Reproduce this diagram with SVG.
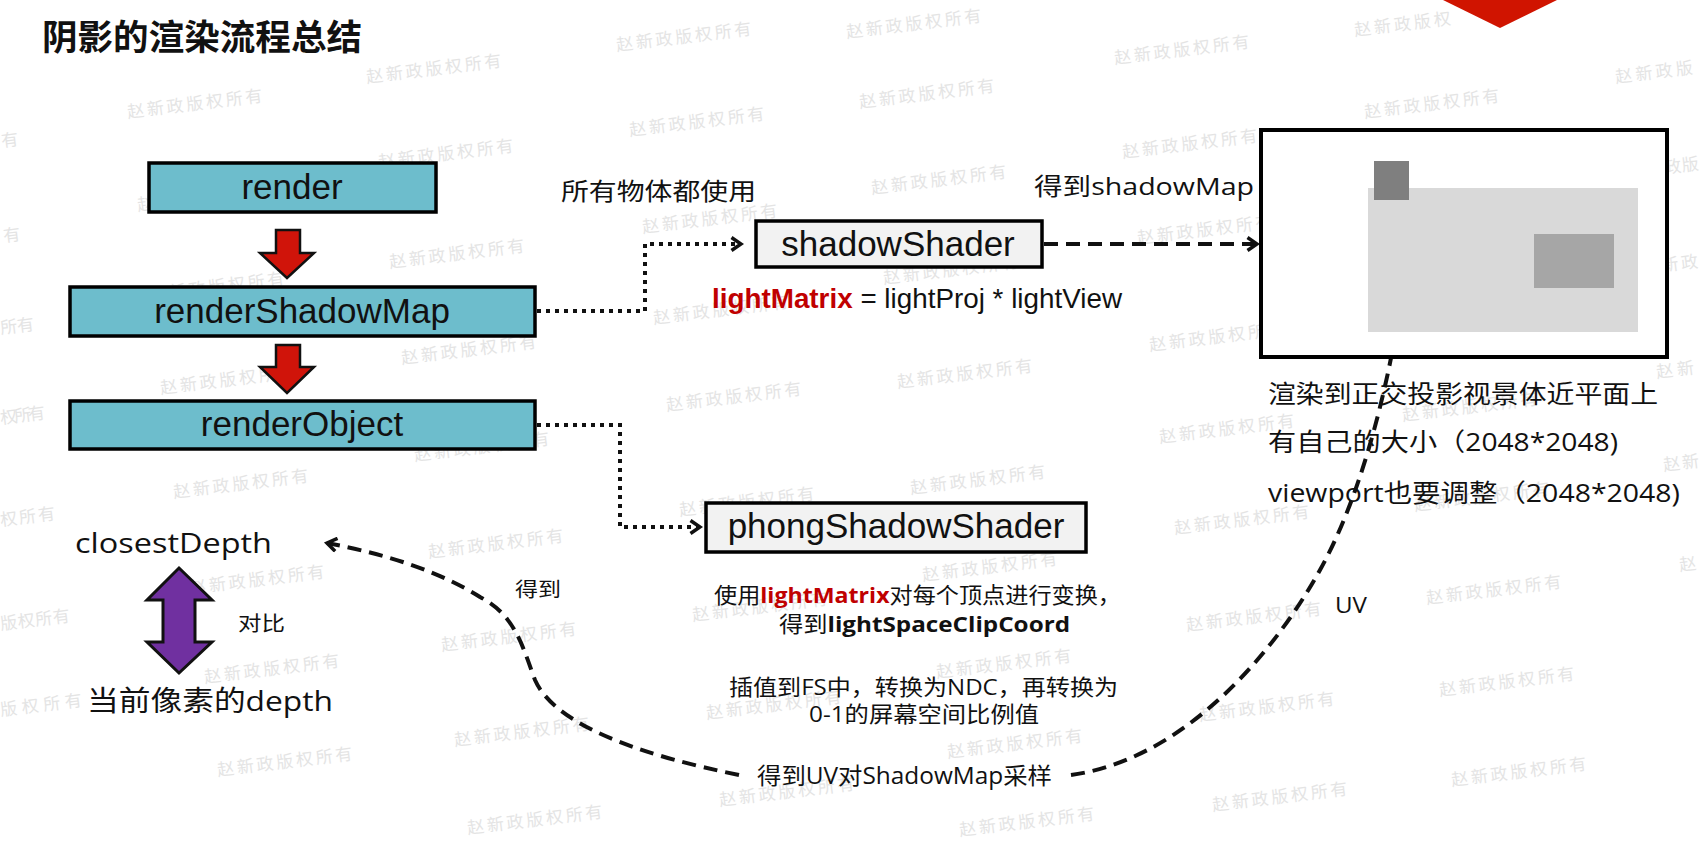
<svg xmlns="http://www.w3.org/2000/svg" width="1702" height="843" viewBox="0 0 1702 843">
<style>
.wm{font-family:"Noto Sans CJK SC",sans-serif;font-size:17px;fill:#e4e4e4}
.box{stroke:#000;stroke-width:3.5}
.teal{fill:#6dbdcc}
.gray{fill:#f2f2f2}
.bt{font-family:"Liberation Sans",Arial,sans-serif;font-size:35px;fill:#111;text-anchor:middle}
.yh{font-family:"Open Sans","Noto Sans CJK SC",sans-serif;fill:#111}
.ar{font-family:"Liberation Sans",Arial,sans-serif;fill:#111}
.red{fill:#c00000;font-weight:700}
.dot{fill:none;stroke:#111;stroke-width:4;stroke-dasharray:4 5}
.dash{fill:none;stroke:#111;stroke-width:4;stroke-dasharray:14 8}
</style>
<defs>
<marker id="chev" viewBox="0 0 14 16" refX="11" refY="8" markerWidth="14" markerHeight="16" markerUnits="userSpaceOnUse" orient="auto">
<path d="M1.5,1.5 L11,8 L1.5,14.5" fill="none" stroke="#111" stroke-width="3.5" stroke-linejoin="miter"/>
</marker>
</defs>
<rect width="1702" height="843" fill="#fff"/>
<g id="watermarks" class="wm">
<text x="2" y="147" transform="rotate(-7 2 147)">有</text>
<text x="4" y="242" transform="rotate(-7 4 242)">有</text>
<text x="1" y="334" transform="rotate(-7 1 334)" textLength="34">所有</text>
<text x="1" y="424" transform="rotate(-7 1 424)" textLength="45">权所有</text>
<text x="1" y="526" transform="rotate(-7 1 526)" textLength="55">权所有</text>
<text x="1" y="630" transform="rotate(-7 1 630)" textLength="70">版权所有</text>
<text x="1" y="716" transform="rotate(-7 1 716)" textLength="82">版权所有</text>
<text x="128" y="118" transform="rotate(-7 128 118)" textLength="136">赵新政版权所有</text>
<text x="138" y="211" transform="rotate(-7 138 211)" textLength="136">赵新政版权所有</text>
<text x="150" y="301" transform="rotate(-7 150 301)" textLength="136">赵新政版权所有</text>
<text x="161" y="394" transform="rotate(-7 161 394)" textLength="136">赵新政版权所有</text>
<text x="174" y="498" transform="rotate(-7 174 498)" textLength="136">赵新政版权所有</text>
<text x="190" y="594" transform="rotate(-7 190 594)" textLength="136">赵新政版权所有</text>
<text x="205" y="683" transform="rotate(-7 205 683)" textLength="136">赵新政版权所有</text>
<text x="218" y="776" transform="rotate(-7 218 776)" textLength="136">赵新政版权所有</text>
<text x="367" y="83" transform="rotate(-7 367 83)" textLength="136">赵新政版权所有</text>
<text x="379" y="168" transform="rotate(-7 379 168)" textLength="136">赵新政版权所有</text>
<text x="390" y="268" transform="rotate(-7 390 268)" textLength="136">赵新政版权所有</text>
<text x="402" y="364" transform="rotate(-7 402 364)" textLength="136">赵新政版权所有</text>
<text x="415" y="461" transform="rotate(-7 415 461)" textLength="136">赵新政版权所有</text>
<text x="429" y="558" transform="rotate(-7 429 558)" textLength="136">赵新政版权所有</text>
<text x="442" y="651" transform="rotate(-7 442 651)" textLength="136">赵新政版权所有</text>
<text x="455" y="746" transform="rotate(-7 455 746)" textLength="136">赵新政版权所有</text>
<text x="468" y="834" transform="rotate(-7 468 834)" textLength="136">赵新政版权所有</text>
<text x="617" y="51" transform="rotate(-7 617 51)" textLength="136">赵新政版权所有</text>
<text x="630" y="136" transform="rotate(-7 630 136)" textLength="136">赵新政版权所有</text>
<text x="643" y="233" transform="rotate(-7 643 233)" textLength="136">赵新政版权所有</text>
<text x="654" y="324" transform="rotate(-7 654 324)" textLength="136">赵新政版权所有</text>
<text x="667" y="411" transform="rotate(-7 667 411)" textLength="136">赵新政版权所有</text>
<text x="680" y="516" transform="rotate(-7 680 516)" textLength="136">赵新政版权所有</text>
<text x="693" y="621" transform="rotate(-7 693 621)" textLength="136">赵新政版权所有</text>
<text x="707" y="719" transform="rotate(-7 707 719)" textLength="136">赵新政版权所有</text>
<text x="720" y="806" transform="rotate(-7 720 806)" textLength="136">赵新政版权所有</text>
<text x="847" y="38" transform="rotate(-7 847 38)" textLength="136">赵新政版权所有</text>
<text x="860" y="108" transform="rotate(-7 860 108)" textLength="136">赵新政版权所有</text>
<text x="872" y="194" transform="rotate(-7 872 194)" textLength="136">赵新政版权所有</text>
<text x="884" y="284" transform="rotate(-7 884 284)" textLength="136">赵新政版权所有</text>
<text x="898" y="388" transform="rotate(-7 898 388)" textLength="136">赵新政版权所有</text>
<text x="911" y="494" transform="rotate(-7 911 494)" textLength="136">赵新政版权所有</text>
<text x="923" y="581" transform="rotate(-7 923 581)" textLength="136">赵新政版权所有</text>
<text x="937" y="678" transform="rotate(-7 937 678)" textLength="136">赵新政版权所有</text>
<text x="948" y="758" transform="rotate(-7 948 758)" textLength="136">赵新政版权所有</text>
<text x="960" y="836" transform="rotate(-7 960 836)" textLength="136">赵新政版权所有</text>
<text x="1115" y="64" transform="rotate(-7 1115 64)" textLength="136">赵新政版权所有</text>
<text x="1123" y="158" transform="rotate(-7 1123 158)" textLength="136">赵新政版权所有</text>
<text x="1138" y="244" transform="rotate(-7 1138 244)" textLength="136">赵新政版权所有</text>
<text x="1150" y="351" transform="rotate(-7 1150 351)" textLength="136">赵新政版权所有</text>
<text x="1160" y="443" transform="rotate(-7 1160 443)" textLength="136">赵新政版权所有</text>
<text x="1175" y="534" transform="rotate(-7 1175 534)" textLength="136">赵新政版权所有</text>
<text x="1187" y="631" transform="rotate(-7 1187 631)" textLength="136">赵新政版权所有</text>
<text x="1200" y="721" transform="rotate(-7 1200 721)" textLength="136">赵新政版权所有</text>
<text x="1213" y="811" transform="rotate(-7 1213 811)" textLength="136">赵新政版权所有</text>
<text x="1355" y="36" transform="rotate(-7 1355 36)" textLength="97">赵新政版权</text>
<text x="1365" y="118" transform="rotate(-7 1365 118)" textLength="136">赵新政版权所有</text>
<text x="1403" y="421" transform="rotate(-7 1403 421)" textLength="136">赵新政版权所有</text>
<text x="1415" y="511" transform="rotate(-7 1415 511)" textLength="136">赵新政版权所有</text>
<text x="1427" y="604" transform="rotate(-7 1427 604)" textLength="136">赵新政版权所有</text>
<text x="1440" y="696" transform="rotate(-7 1440 696)" textLength="136">赵新政版权所有</text>
<text x="1452" y="786" transform="rotate(-7 1452 786)" textLength="136">赵新政版权所有</text>
<text x="1616" y="83" transform="rotate(-7 1616 83)" textLength="78">赵新政版</text>
<text x="1630" y="178" transform="rotate(-7 1630 178)" textLength="70">赵新政版</text>
<text x="1643" y="274" transform="rotate(-7 1643 274)" textLength="56">赵新政</text>
<text x="1657" y="378" transform="rotate(-7 1657 378)" textLength="38">赵新</text>
<text x="1664" y="471" transform="rotate(-7 1664 471)" textLength="36">赵新</text>
<text x="1680" y="571" transform="rotate(-7 1680 571)">赵</text>
</g>
<polygon id="corner-shape" points="1443,0 1557,0 1500,28" fill="#d01400"/>
<g id="title">
<text x="42" y="50" font-family="'Noto Sans CJK SC',sans-serif" font-weight="700" font-size="35" fill="#111" textLength="320" lengthAdjust="spacingAndGlyphs">阴影的渲染流程总结</text>
</g>
<g id="connectors">
<polygon points="276,230 300,230 300,253 314,253 287,278 260,253 276,253" fill="#d0140a" stroke="#111" stroke-width="2.5" stroke-linejoin="miter"/>
<polygon points="276,345 300,345 300,367 314,367 287,393 260,367 276,367" fill="#d0140a" stroke="#111" stroke-width="2.5" stroke-linejoin="miter"/>
<path class="dot" d="M537,311 H645 V244 H741" marker-end="url(#chev)"/>
<path class="dot" d="M537,425 H620 V527 H700" marker-end="url(#chev)"/>
<path class="dash" d="M1044,244 H1257" marker-end="url(#chev)"/>
<path class="dash" d="M739,775 C640,755 555,725 535,680 C522,645 515,615 480,597 C440,572 390,555 327,543" marker-end="url(#chev)"/>
<path class="dash" d="M1071,775 C1180,760 1270,660 1320,570 C1370,480 1400,340 1410,227" marker-end="url(#chev)"/>
<polygon points="179,568 212,600 195,600 195,642 212,642 179,673 147,642 163,642 163,600 147,600" fill="#7030a0" stroke="#111" stroke-width="3" stroke-linejoin="miter"/>
</g>
<g id="render">
<rect class="box teal" x="149" y="163" width="287" height="49"/>
<text class="bt" x="292" y="199">render</text>
</g>
<g id="renderShadowMap">
<rect class="box teal" x="70" y="287" width="465" height="49"/>
<text class="bt" x="302" y="323">renderShadowMap</text>
</g>
<g id="renderObject">
<rect class="box teal" x="70" y="401" width="465" height="48"/>
<text class="bt" x="302" y="436">renderObject</text>
</g>
<g id="shadowShader">
<rect class="box gray" x="756" y="221" width="286" height="46"/>
<text class="bt" x="898" y="256">shadowShader</text>
</g>
<g id="phongShadowShader">
<rect class="box gray" x="706" y="503" width="380" height="49"/>
<text class="bt" x="896" y="538">phongShadowShader</text>
</g>
<g id="shadowMap">
<rect x="1261" y="130" width="406" height="227" fill="#fff" stroke="#000" stroke-width="4"/>
<rect x="1368" y="188" width="270" height="144" fill="#d9d9d9"/>
<rect x="1374" y="161" width="35" height="39" fill="#7f7f7f"/>
<rect x="1534" y="234" width="80" height="54" fill="#a6a6a6"/>
</g>
<g id="labels">
<text class="yh" x="561" y="200" font-size="24" textLength="195" lengthAdjust="spacingAndGlyphs">所有物体都使用</text>
<text class="yh" x="1034" y="195" font-size="24" textLength="220" lengthAdjust="spacingAndGlyphs">得到shadowMap</text>
<text class="ar" x="712" y="308" font-size="28" textLength="410" lengthAdjust="spacingAndGlyphs"><tspan class="red">lightMatrix</tspan> = lightProj * lightView</text>
<text class="yh" x="714" y="603" font-size="22" textLength="407" lengthAdjust="spacingAndGlyphs">使用<tspan class="red">lightMatrix</tspan>对每个顶点进行变换，</text>
<text class="yh" x="779" y="632" font-size="22" textLength="291" lengthAdjust="spacingAndGlyphs">得到<tspan font-weight="700">lightSpaceClipCoord</tspan></text>
<text class="yh" x="729" y="695" font-size="22" textLength="389" lengthAdjust="spacingAndGlyphs">插值到FS中，转换为NDC，再转换为</text>
<text class="yh" x="809" y="722" font-size="22" textLength="230" lengthAdjust="spacingAndGlyphs">0-1的屏幕空间比例值</text>
<text class="yh" x="757" y="784" font-size="23" textLength="295" lengthAdjust="spacingAndGlyphs">得到UV对ShadowMap采样</text>
<text class="yh" x="1268" y="403" font-size="25" textLength="390" lengthAdjust="spacingAndGlyphs">渲染到正交投影视景体近平面上</text>
<text class="yh" x="1268" y="451" font-size="25" textLength="350" lengthAdjust="spacingAndGlyphs">有自己的大小（2048*2048)</text>
<text class="yh" x="1268" y="502" font-size="25" textLength="412" lengthAdjust="spacingAndGlyphs">viewport也要调整（2048*2048)</text>
<text class="yh" x="1335" y="613" font-size="22" textLength="32" lengthAdjust="spacingAndGlyphs">UV</text>
<text class="yh" x="515" y="597" font-size="20" textLength="46" lengthAdjust="spacingAndGlyphs">得到</text>
</g>
<g id="closestDepth">
<text class="yh" x="75" y="553" font-size="27" textLength="197" lengthAdjust="spacingAndGlyphs">closestDepth</text>
</g>
<g id="compare">
<text class="yh" x="238" y="631" font-size="20" textLength="47" lengthAdjust="spacingAndGlyphs">对比</text>
</g>
<g id="currentDepth">
<text class="yh" x="87" y="711" font-size="28" textLength="246" lengthAdjust="spacingAndGlyphs">当前像素的depth</text>
</g>
</svg>
